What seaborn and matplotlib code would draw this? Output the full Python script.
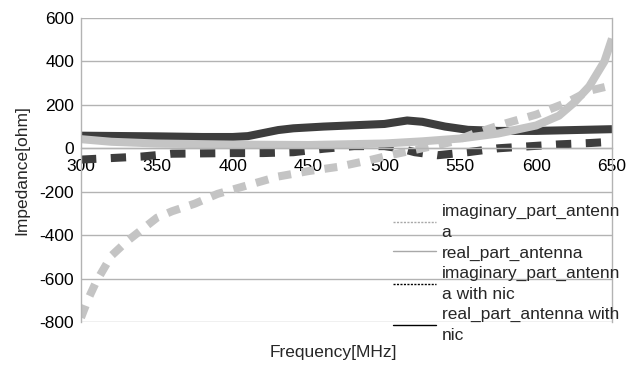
import pandas as pd
import matplotlib
matplotlib.use("Agg")
import matplotlib.pyplot as plt
from matplotlib.lines import Line2D
import seaborn as sns

# frequency points (MHz) and impedance values (ohm)
freq_imag_ant = [300, 305, 310, 320, 330, 340, 350, 360, 375, 390, 410, 430, 450,
                 470, 490, 505, 525, 545, 560, 580, 600, 620, 635, 650]
imag_ant = [-780, -690, -615, -495, -430, -375, -320, -290, -255, -210, -170, -130, -105,
            -85, -55, -30, 0, 30, 70, 115, 155, 210, 265, 290]

freq_real_ant = [300, 320, 350, 400, 450, 500, 525, 550, 575, 600, 615, 625, 635, 645, 650]
real_ant = [42, 30, 22, 17, 15, 22, 32, 45, 68, 105, 150, 210, 285, 400, 505]

freq_imag_nic = [300, 340, 360, 400, 420, 440, 460, 480, 500, 510, 520, 535, 555,
                 575, 595, 615, 635, 650]
imag_nic = [-52, -38, -25, -22, -22, -18, -2, 10, 10, 0, -18, -32, -18,
            0, 9, 18, 24, 30]

freq_real_nic = [300, 350, 380, 400, 410, 420, 430, 440, 460, 480, 500, 515, 525,
                 540, 555, 575, 600, 625, 650]
real_nic = [58, 55, 52, 52, 56, 70, 84, 92, 100, 106, 112, 128, 122,
            100, 85, 80, 80, 84, 88]

labels = ["imaginary_part_antenn\na", "real_part_antenna",
          "imaginary_part_antenn\na with nic", "real_part_antenna with\nnic"]

sns.set_style("white")
plt.rcParams['font.family'] = ['Liberation Sans', 'DejaVu Sans']
plt.rcParams['axes.unicode_minus'] = False

fig = plt.figure(figsize=(6.38, 3.65), dpi=100)
ax = fig.add_axes([81 / 638, 1 - 322 / 365, 531 / 638, 304 / 365])

grid_c = "#b3b3b3"
light = "#c4c4c4"
dark = "#3d3d3d"

# draw order: dark series first, light on top
sns.lineplot(x=freq_real_nic, y=real_nic, ax=ax, color=dark, lw=5.8,
             solid_capstyle="butt")
sns.lineplot(x=freq_imag_nic, y=imag_nic, ax=ax, color=dark, lw=5.8,
             dashes=(1.9, 1.8), dash_capstyle="butt")
sns.lineplot(x=freq_real_ant, y=real_ant, ax=ax, color=light, lw=5.8,
             solid_capstyle="butt")
sns.lineplot(x=freq_imag_ant, y=imag_ant, ax=ax, color=light, lw=5.8,
             dashes=(1.6, 1.3), dash_capstyle="butt")

ax.set_xlim(300, 650)
ax.set_ylim(-800, 600)
ax.set_xticks(range(300, 651, 50))
ax.set_yticks(range(-800, 601, 200))
ax.yaxis.grid(True, color=grid_c, lw=1)
ax.set_axisbelow(True)

for side in ["left", "right", "bottom"]:
    ax.spines[side].set_color(grid_c)
    ax.spines[side].set_linewidth(1)
ax.spines["top"].set_visible(False)
ax.spines["bottom"].set_position(("data", 0))

ax.tick_params(axis="both", labelsize=12.5, colors=grid_c, labelcolor="black",
               length=4, width=1, direction="out", pad=1)
ax.tick_params(axis="x", pad=4)

ax.set_ylabel("Impedance[ohm]", fontsize=12.5, labelpad=7)
fig.text(333 / 638, 1 - 352 / 365, "Frequency[MHz]", fontsize=12.5,
         ha="center", va="center")

handles = [
    Line2D([], [], color="#a8a8a8", lw=1, linestyle=(0, (1.5, 1))),
    Line2D([], [], color="#a8a8a8", lw=1),
    Line2D([], [], color="black", lw=1, linestyle=(0, (1.5, 1))),
    Line2D([], [], color="black", lw=1),
]
leg = fig.legend(handles, labels, loc="upper left",
                 bbox_to_anchor=(393 / 638, 1 - 204 / 365), frameon=False,
                 fontsize=12.5, handlelength=2.5, handletextpad=0.3,
                 labelspacing=0.3, borderpad=0, borderaxespad=0)
for t in leg.get_texts():
    t.set_linespacing(1.5)

fig.savefig("out.png", dpi=100)
